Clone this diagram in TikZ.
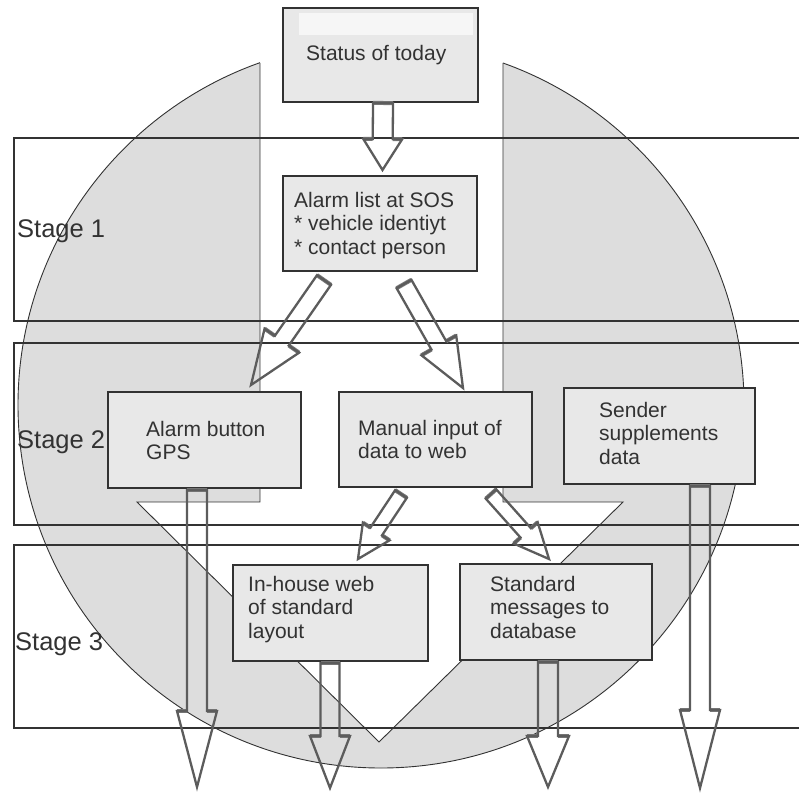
\documentclass[tikz,border=0pt]{standalone}
\usepackage{fontspec}
\setmainfont{Liberation Sans}
\usetikzlibrary{calc}

\definecolor{ink}{RGB}{50,50,50}
\definecolor{discfill}{RGB}{221,221,221}
\definecolor{panelfill}{RGB}{232,232,232}
\definecolor{arrowline}{RGB}{92,92,92}
\definecolor{arrowshade}{RGB}{120,120,120}
\definecolor{fadepatch}{RGB}{246,246,246}

\tikzset{
  band/.style={draw=ink, line width=2.4pt},
  stagelabel/.style={font=\fontsize{25.5}{28}\selectfont, text=ink, anchor=base west, inner sep=0pt},
  panel/.style={draw=ink, fill=panelfill, line width=2.4pt, anchor=north west, inner sep=0pt, outer sep=0pt},
  paneltext/.style={font=\fontsize{21}{23.5}\selectfont, text=ink, align=left, anchor=north west, inner sep=0pt},
  thinedge/.style={draw=ink, line width=0.9pt},
  hollow/.style={draw=arrowline, line width=2.3pt, line join=miter},
  capedge/.style={draw=arrowshade, line width=4pt},
}

% hollow block arrow: name, tail, tip, shaft half width, head half width, head length
\newcommand\hollowarrow[6]{%
  \coordinate (#1-a) at #2;
  \coordinate (#1-b) at #3;
  \coordinate (#1-h) at ($(#1-b)!#6!(#1-a)$);
  \coordinate (#1-p1) at ($(#1-a)!#4!90:(#1-b)$);
  \coordinate (#1-p2) at ($(#1-h)!#4!-90:(#1-a)$);
  \coordinate (#1-p3) at ($(#1-h)!#5!-90:(#1-a)$);
  \coordinate (#1-p5) at ($(#1-h)!#5!90:(#1-a)$);
  \coordinate (#1-p6) at ($(#1-h)!#4!90:(#1-a)$);
  \coordinate (#1-p7) at ($(#1-a)!#4!-90:(#1-b)$);
  \draw[capedge] (#1-p1) -- (#1-p7);
  \draw[capedge] (#1-p2) -- (#1-p3) (#1-p5) -- (#1-p6);
  \draw[hollow] (#1-p1) -- (#1-p2) -- (#1-p3) -- (#1-b) -- (#1-p5) -- (#1-p6) -- (#1-p7) -- cycle;
}

\begin{document}
\begin{tikzpicture}[x=1pt,y=-1pt]
\useasboundingbox (0,0) rectangle (799,794);
\clip (0,0) rectangle (799,794);

% shaded disc with the funnel cut out of it
\fill[discfill] (381,405) circle[radius=363pt];
\draw[thinedge] (381,405) circle[radius=363pt];
\fill[white] (260,-5) -- (260,502) -- (137,502) -- (379,742) -- (623,502)
  -- (503,502) -- (503,-5) -- cycle;
\draw[thinedge] (260,63) -- (260,502) -- (137,502) -- (379,742) -- (623,502)
  -- (503,502) -- (503,63);

% stage bands
\draw[band] (14,138) rectangle (812,321);
\draw[band] (14,343) rectangle (812,525);
\draw[band] (14,545) rectangle (812,728);
\node[stagelabel] (stage1) at (17,237) {Stage 1};
\node[stagelabel] (stage2) at (17,448) {Stage 2};
\node[stagelabel] (stage3) at (15,650) {Stage 3};

% boxes
\node[panel, minimum width=195pt, minimum height=94pt] (status) at (283,8) {};
\fill[fadepatch] (299,13) rectangle (473,35);
\node[panel, minimum width=194pt, minimum height=95pt] (alarmlist) at (283,176) {};
\node[panel, minimum width=193pt, minimum height=96pt] (alarmbtn) at (108,392) {};
\node[panel, minimum width=193pt, minimum height=95pt] (manual) at (339,392) {};
\node[panel, minimum width=191pt, minimum height=96pt] (sender) at (564,388) {};
\node[panel, minimum width=195pt, minimum height=96pt] (inhouse) at (233,565) {};
\node[panel, minimum width=192pt, minimum height=96pt] (stdmsg) at (460,564) {};

\node[paneltext] (status-t) at (306,45) {Status of today};
\node[paneltext] (alarmlist-t) at (294,192) {Alarm list at SOS\\* vehicle identiyt\\* contact person};
\node[paneltext] (alarmbtn-t) at (146,421) {Alarm button\\GPS};
\node[paneltext] (manual-t) at (358,420) {Manual input of\\data to web};
\node[paneltext] (sender-t) at (599,402) {Sender\\supplements\\data};
\node[paneltext] (inhouse-t) at (248,576) {In-house web\\of standard\\layout};
\node[paneltext] (stdmsg-t) at (490,576) {Standard\\messages to\\database};

% free ends of the outgoing arrows
\coordinate (out1) at (197,787);
\coordinate (out2) at (330,788);
\coordinate (out3) at (548,787);
\coordinate (out4) at (700,788);

% arrows
\hollowarrow{a0}{([xshift=2.5pt,yshift=-1pt]status.south)}{([xshift=2.5pt,yshift=6pt]alarmlist.north)}{10pt}{19.5pt}{31pt}
\hollowarrow{a1}{([xshift=41pt,yshift=-9pt]alarmlist.south west)}{([xshift=143pt,yshift=7pt]alarmbtn.north west)}{8.5pt}{21pt}{54pt}
\hollowarrow{a2}{([xshift=121pt,yshift=-13pt]alarmlist.south west)}{([xshift=124pt,yshift=4pt]manual.north west)}{8.5pt}{20pt}{49pt}
\hollowarrow{a3}{([xshift=62pt,yshift=-7pt]manual.south west)}{([xshift=125pt,yshift=6pt]inhouse.north west)}{7pt}{16pt}{33pt}
\hollowarrow{a4}{([xshift=152pt,yshift=-7pt]manual.south west)}{([xshift=89pt,yshift=5pt]stdmsg.north west)}{7pt}{16pt}{35pt}
\hollowarrow{a5}{([xshift=89pt,yshift=-2pt]alarmbtn.south west)}{(out1)}{10pt}{20pt}{76pt}
\hollowarrow{a6}{([xshift=97pt,yshift=-2pt]inhouse.south west)}{(out2)}{9.5pt}{20pt}{52pt}
\hollowarrow{a7}{([xshift=88pt,yshift=-2pt]stdmsg.south west)}{(out3)}{10pt}{21pt}{51pt}
\hollowarrow{a8}{([xshift=136pt,yshift=-2pt]sender.south west)}{(out4)}{10pt}{20pt}{78pt}
\end{tikzpicture}
\end{document}
